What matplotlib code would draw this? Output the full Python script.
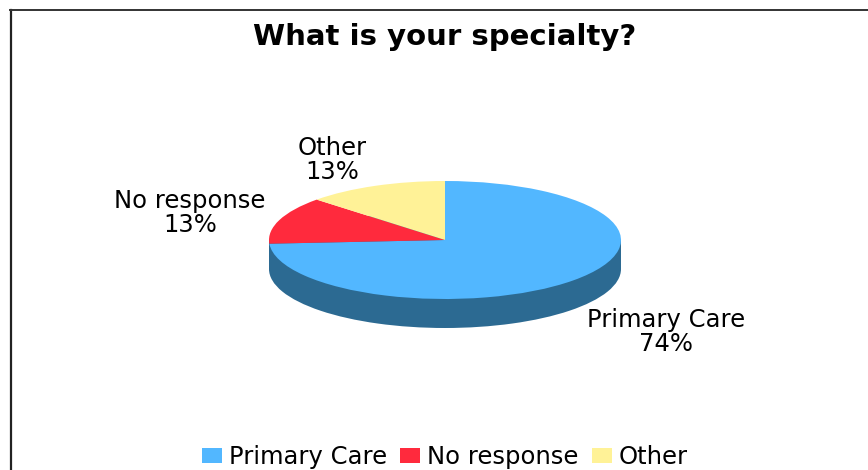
import matplotlib
matplotlib.use('Agg')
import matplotlib.pyplot as plt
from matplotlib.lines import Line2D
from matplotlib.patches import Patch, Rectangle

W, H = 868, 470

categories = ['Primary Care', 'No response', 'Other']
shares = [74, 13, 13]
colors = ['#52B7FF', '#FF2A3D', '#FFF297']
wall_color = '#2C6A92'

plt.rcParams['font.family'] = ['DejaVu Sans']

fig = plt.figure(figsize=(W / 100, H / 100), dpi=100, facecolor='white')

# pie ellipse: centre (445, 240), radii 176 x 59 px
cx, cy, rx, ry = 445, 240, 176, 59
ax = fig.add_axes([(cx - rx) / W, (H - cy - ry) / H, 2 * rx / W, 2 * ry / H])
depth = 29 / ry

# side wall first, then the top face over it
ax.pie([1], colors=[wall_color], center=(0, -depth), radius=1, wedgeprops={'clip_on': False})
ax.add_patch(Rectangle((-1, -depth), 2, depth, color=wall_color, lw=0, clip_on=False))
ax.pie(shares, colors=colors, startangle=90, counterclock=False, radius=1,
       wedgeprops={'clip_on': False})
ax.set_aspect('auto')
ax.set_xlim(-1, 1)
ax.set_ylim(-1, 1)
ax.axis('off')

# frame, only left and top are visible in the crop
fig.add_artist(Line2D([10.5 / W, 10.5 / W], [0, 1 - 9.5 / H], color='#222222', lw=1.6))
fig.add_artist(Line2D([10 / W, 1], [1 - 9.5 / H, 1 - 9.5 / H], color='#333333', lw=1.4))

fig.text(445 / W, 1 - 37 / H, 'What is your specialty?', fontsize=21, fontweight='bold',
         ha='center', va='center', color='black')

label_pos = [(666, 332), (190, 213), (332, 160)]
for name, val, (x, y) in zip(categories, shares, label_pos):
    fig.text(x / W, 1 - y / H, f'{name}\n{val}%', fontsize=17.5, ha='center', va='center',
             color='black', linespacing=0.95)

handles = [Patch(facecolor=c, edgecolor='none') for c in colors]
fig.legend(handles, categories, ncols=3, loc='center', bbox_to_anchor=(445 / W, 1 - 457 / H),
           frameon=False, fontsize=17.5, handlelength=0.83, handleheight=0.6,
           handletextpad=0.28, columnspacing=0.55, borderpad=0)

fig.savefig('out.png', dpi=100, facecolor='white')
